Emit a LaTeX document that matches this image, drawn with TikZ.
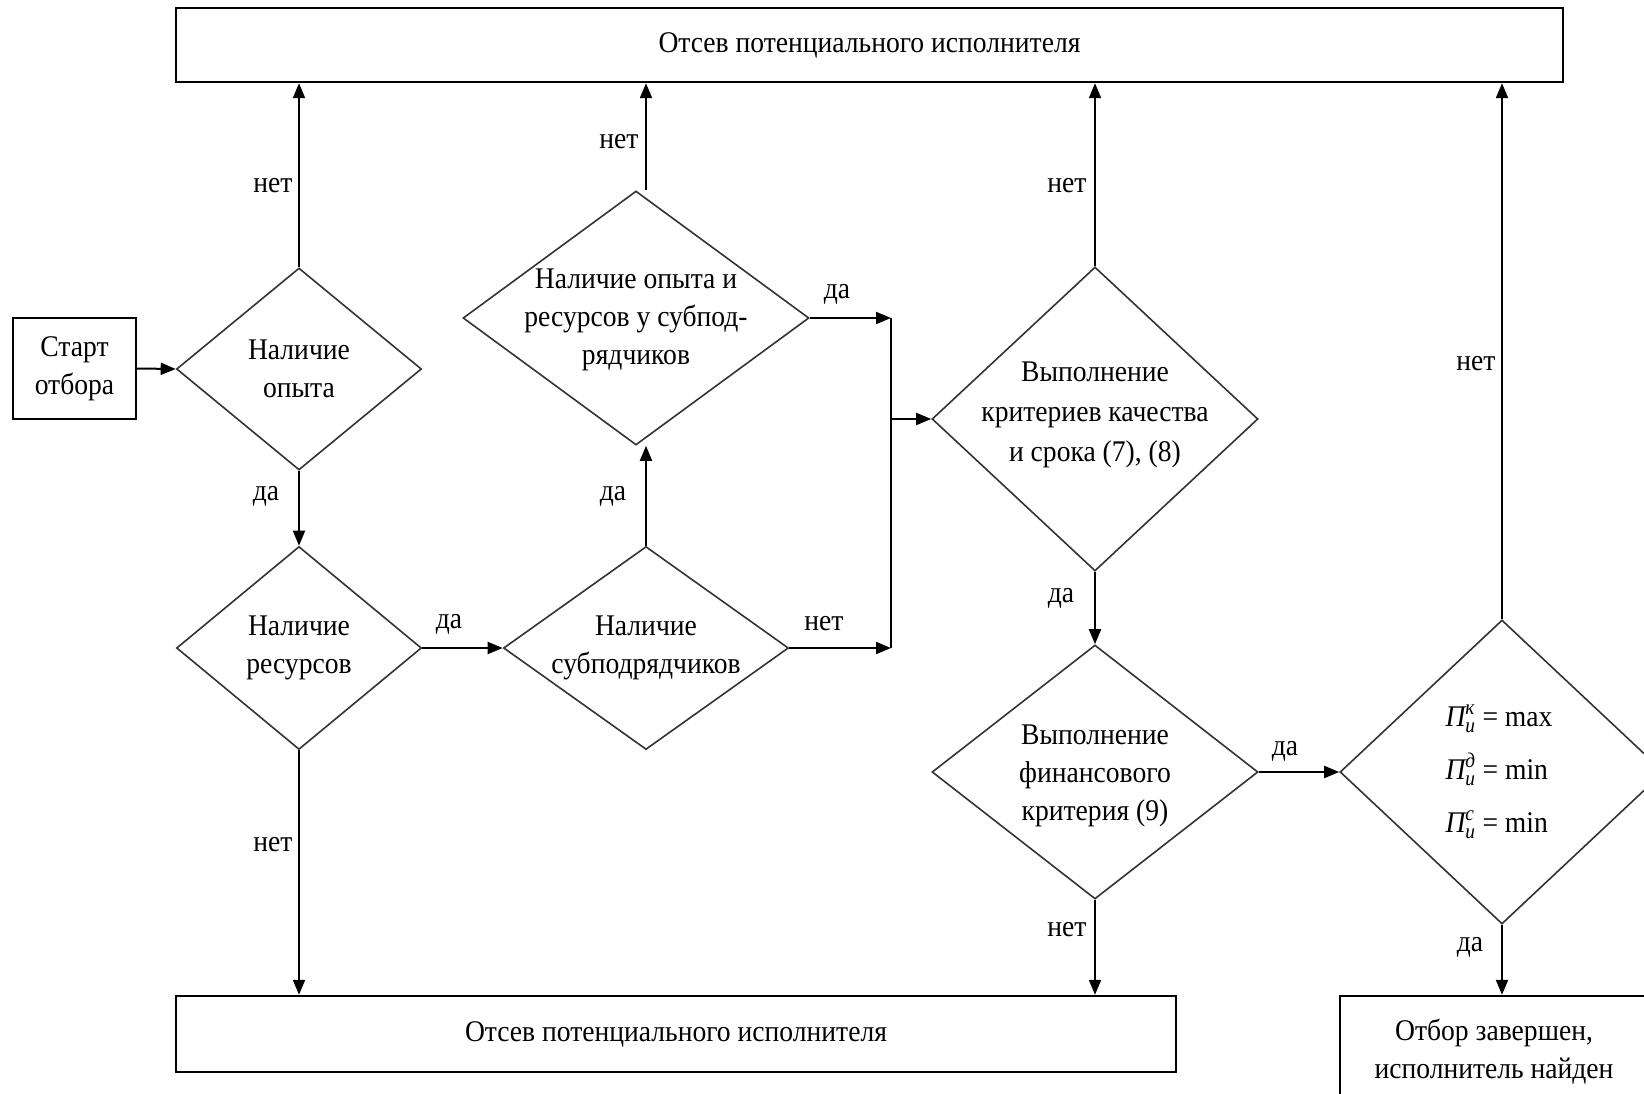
\documentclass[tikz,border=0pt]{standalone}
\usepackage{amsmath}
\usepackage{fontspec}
\setmainfont{Liberation Serif}[FakeStretch=0.92]
\usetikzlibrary{shapes.geometric,arrows.meta}
\newcommand\PUsym[1]{\ensuremath{\text{\itshape П}^{\text{\itshape #1}}_{\text{\itshape и}}}}
\begin{document}
\begin{tikzpicture}[x=1pt,y=-1pt,
  every node/.style={font=\fontsize{30}{38}\selectfont, inner sep=0pt},
  box/.style={draw, line width=2.4pt, rectangle},
  dia/.style={diamond, draw=black!80, line width=1.6pt},
  arr/.style={line width=2pt, -{Triangle[length=15pt,width=12pt]}},
  ln/.style={line width=2pt}]
\useasboundingbox (0,0) rectangle (1644,1094);
% boxes
\node[box, minimum width=1387pt, minimum height=74pt] (top) at (869.5,45) {Отсев потенциального исполнителя};
\node[box, minimum width=123pt, minimum height=101pt, align=center] (start) at (74.5,368.5) {Старт\\отбора};
\node[box, minimum width=1000pt, minimum height=76pt] (bot) at (676,1034) {Отсев потенциального исполнителя};
\node[box, minimum width=308pt, minimum height=112pt, align=center] (fin) at (1494,1052) {Отбор завершен,\\исполнитель найден};
% diamonds
\node[dia, minimum width=245pt, minimum height=202pt] (D1) at (299,369) {};
\node[dia, minimum width=245pt, minimum height=203pt] (D2) at (299,648) {};
\node[dia, minimum width=285pt, minimum height=203pt] (D3) at (646,648) {};
\node[dia, minimum width=346pt, minimum height=254pt] (D4) at (636,318) {};
\node[dia, minimum width=326pt, minimum height=304pt] (D5) at (1095,419) {};
\node[dia, minimum width=326pt, minimum height=254pt] (D6) at (1095,772) {};
\node[dia, minimum width=324pt, minimum height=304pt] (D7) at (1502,772) {};
% diamond texts
\node[align=center] (D1t) at (D1) {Наличие\\опыта};
\node[align=center] (D2t) at (D2) {Наличие\\ресурсов};
\node[align=center] (D3t) at (D3) {Наличие\\субподрядчиков};
\node[align=center] (D4t) at (636,320) {Наличие опыта и\\ресурсов у субпод-\\рядчиков};
\node[align=center, font=\fontsize{30}{40}\selectfont] (D5t) at (1095,415) {Выполнение\\критериев качества\\и срока (7), (8)};
\node[align=center] (D6t) at (1095,776) {Выполнение\\финансового\\критерия (9)};
\node[align=left, font=\fontsize{30}{53}\selectfont] (D7t) at (1499,772) {\PUsym{к} = max\\\PUsym{д} = min\\\PUsym{с} = min};
% connectors
\coordinate (J1) at (891,318);
\coordinate (J2) at (891,648);
\draw[arr] (start.east) -- (D1.west);
\draw[arr] (D1.north) -- (D1.north |- top.south);
\draw[arr] (D1.south) -- (D2.north);
\draw[arr] (D2.east) -- (D3.west);
\draw[arr] (D2.south) -- (D2.south |- bot.north);
\draw[arr] (D3.north) -- (D3.north |- D4.south);
\draw[arr] (D3.north |- D4.north) -- (D3.north |- top.south);
\draw[arr] (D4.east) -- (J1);
\draw[arr] (D3.east) -- (J2);
\draw[ln] (J1) -- (J2);
\draw[arr] (J1 |- D5.west) -- (D5.west);
\draw[arr] (D5.north) -- (D5.north |- top.south);
\draw[arr] (D5.south) -- (D6.north);
\draw[arr] (D6.south) -- (D6.south |- bot.north);
\draw[arr] (D6.east) -- (D7.west);
\draw[arr] (D7.north) -- (D7.north |- top.south);
\draw[arr] (D7.south) -- (D7.south |- fin.north);
% labels
\node (L1) at (273,186) {нет};
\node (L2) at (266,496) {да};
\node (L3) at (449,624) {да};
\node (L4) at (613,496) {да};
\node (L5) at (619,142) {нет};
\node (L6) at (837,294) {да};
\node (L7) at (824,624) {нет};
\node (L8) at (1067,186) {нет};
\node (L9) at (1061,598) {да};
\node (L10) at (1067,930) {нет};
\node (L11) at (1285,751) {да};
\node (L12) at (1476,364) {нет};
\node (L13) at (1470,947) {да};
\node (L14) at (273,845) {нет};
\end{tikzpicture}
\end{document}
